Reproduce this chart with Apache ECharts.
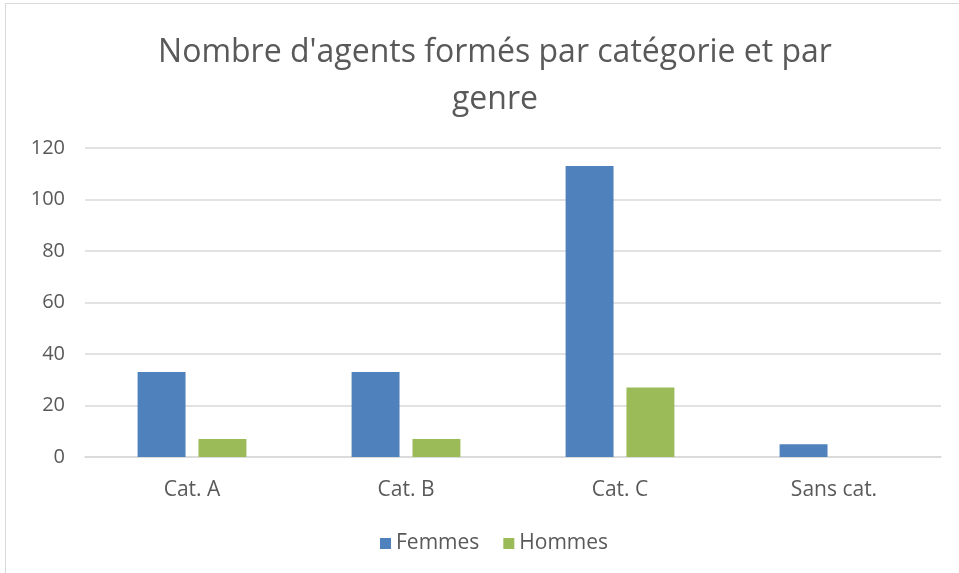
<!DOCTYPE html>
<html>
<head>
<meta charset="utf-8">
<script src="https://cdn.jsdelivr.net/npm/echarts@6/dist/echarts.min.js"></script>
<style>
html, body { margin: 0; padding: 0; background: #fff; overflow: hidden; }
#frame { position: absolute; left: 5px; top: 3px; width: 1000px; height: 600px; border: 1px solid #d9d9d9; }
#chart { position: absolute; left: 0; top: 0; width: 959px; height: 573px; }
</style>
</head>
<body>
<div id="frame"></div>
<div id="chart"></div>
<script>
var categories = ['Cat. A', 'Cat. B', 'Cat. C', 'Sans cat.'];
var femmes = [33, 33, 113, 5];
var hommes = [7, 7, 27, 0];
var yTicks = { min: 0, max: 120, interval: 20 };

var dom = document.getElementById("chart");
var myChart = echarts.init(dom);
var font = "'Open Sans', 'Liberation Sans', sans-serif";

var option = {
    animation: false,
    title: {
        text: "Nombre d'agents formés par catégorie et par\ngenre",
        left: 490,
        textAlign: 'center',
        top: 24,
        textStyle: {
            fontFamily: font,
            fontSize: 32,
            fontWeight: 'normal',
            color: '#595959',
            lineHeight: 47
        }
    },
    legend: {
        bottom: 14,
        left: 375,
        itemWidth: 11,
        itemHeight: 11,
        itemGap: 24,
        icon: 'rect',
        textStyle: { fontFamily: font, fontSize: 21, color: '#595959' },
        data: ['Femmes', 'Hommes']
    },
    grid: {
        left: 85,
        right: 18,
        top: 148,
        bottom: 116
    },
    xAxis: {
        type: 'category',
        data: categories,
        axisTick: { show: false },
        axisLine: { lineStyle: { color: '#d9d9d9', width: 1.5 } },
        axisLabel: { fontFamily: font, fontSize: 21, color: '#595959', margin: 23 }
    },
    yAxis: {
        type: 'value',
        min: yTicks.min,
        max: yTicks.max,
        interval: yTicks.interval,
        axisTick: { show: false },
        axisLine: { show: false },
        splitLine: { lineStyle: { color: '#d9d9d9', width: 1.5 } },
        axisLabel: { fontFamily: font, fontSize: 20, color: '#595959', margin: 20 }
    },
    series: [
        {
            name: 'Femmes',
            type: 'bar',
            data: femmes,
            barWidth: '22.4%',
            barGap: '27%',
            itemStyle: { color: '#4f81bd' }
        },
        {
            name: 'Hommes',
            type: 'bar',
            data: hommes,
            barWidth: '22.4%',
            itemStyle: { color: '#9bbb59' }
        }
    ]
};

myChart.setOption(option, true);
</script>
</body>
</html>
